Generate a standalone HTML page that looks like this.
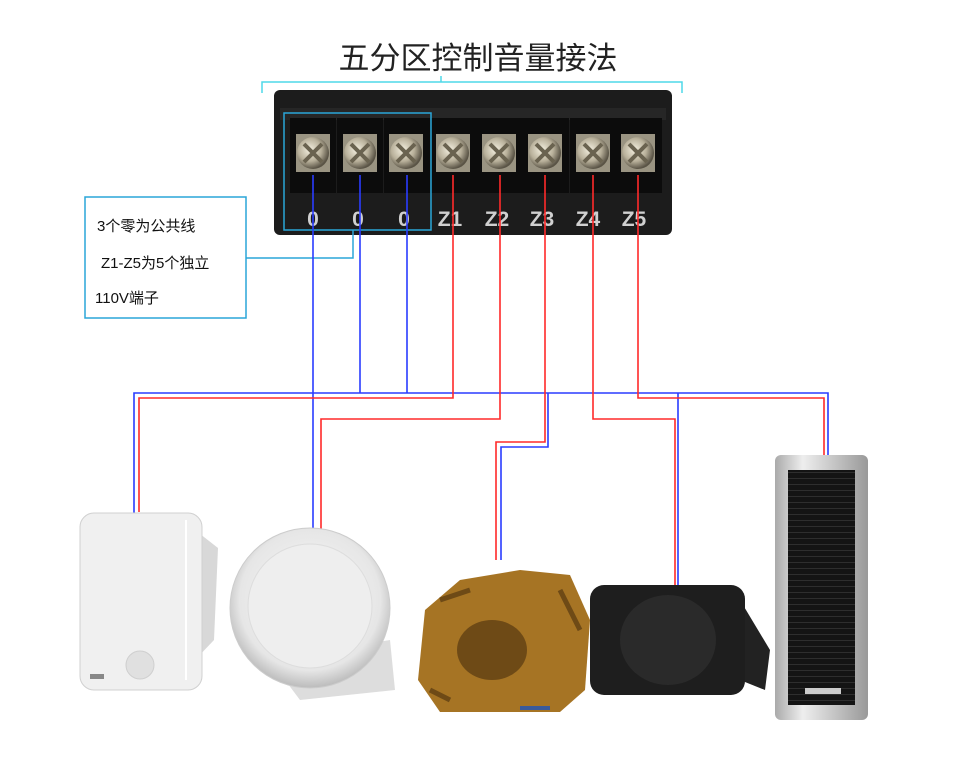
<!DOCTYPE html>
<html><head><meta charset="utf-8"><style>
body{margin:0;background:#fff;width:955px;height:770px;overflow:hidden;font-family:"Liberation Sans","Noto Sans CJK SC",sans-serif}
</style></head><body>
<svg width="955" height="770" xmlns="http://www.w3.org/2000/svg">
<defs>
<radialGradient id="sc" cx="40%" cy="40%" r="60%"><stop offset="0" stop-color="#f4f0e0"/><stop offset="0.6" stop-color="#b8b09a"/><stop offset="1" stop-color="#5a5446"/></radialGradient>
<radialGradient id="ceil" cx="50%" cy="45%" r="55%"><stop offset="0" stop-color="#fafafa"/><stop offset="0.8" stop-color="#e6e6e6"/><stop offset="1" stop-color="#bbb"/></radialGradient>
<linearGradient id="col" x1="0" x2="1"><stop offset="0" stop-color="#aaa"/><stop offset="0.3" stop-color="#eee"/><stop offset="1" stop-color="#999"/></linearGradient>
<pattern id="grille" width="10" height="6" patternUnits="userSpaceOnUse"><rect width="10" height="6" fill="#141414"/><rect y="4" width="10" height="1" fill="#2e2e2e"/></pattern>
</defs>
<text x="478" y="69" font-size="31" text-anchor="middle" fill="#222" font-family="Liberation Sans,Noto Sans CJK SC,sans-serif">五分区控制音量接法</text>
<g stroke="#4fd8e8" stroke-width="1.5" fill="none">
<path d="M262 93V82H682V93M441 82V76"/>
</g>
<rect x="274" y="90" width="398" height="145" rx="6" fill="#1c1c1c"/>
<rect x="280" y="108" width="386" height="12" fill="#262626"/>
<g fill="#0c0c0c">
<rect x="290" y="118" width="46" height="75"/><rect x="337" y="118" width="46" height="75"/><rect x="384" y="118" width="46" height="75"/><rect x="431" y="118" width="46" height="75"/><rect x="477" y="118" width="46" height="75"/><rect x="523" y="118" width="46" height="75"/><rect x="570" y="118" width="46" height="75"/><rect x="616" y="118" width="46" height="75"/>
</g>
<g>
<g transform="translate(313,153)"><rect x="-17" y="-19" width="34" height="38" fill="#9a9482"/><circle r="16" fill="url(#sc)"/><path d="M-9 -9L9 9M9 -9L-9 9" stroke="#6a6350" stroke-width="4"/></g>
<g transform="translate(360,153)"><rect x="-17" y="-19" width="34" height="38" fill="#9a9482"/><circle r="16" fill="url(#sc)"/><path d="M-9 -9L9 9M9 -9L-9 9" stroke="#6a6350" stroke-width="4"/></g>
<g transform="translate(406,153)"><rect x="-17" y="-19" width="34" height="38" fill="#9a9482"/><circle r="16" fill="url(#sc)"/><path d="M-9 -9L9 9M9 -9L-9 9" stroke="#6a6350" stroke-width="4"/></g>
<g transform="translate(453,153)"><rect x="-17" y="-19" width="34" height="38" fill="#9a9482"/><circle r="16" fill="url(#sc)"/><path d="M-9 -9L9 9M9 -9L-9 9" stroke="#6a6350" stroke-width="4"/></g>
<g transform="translate(499,153)"><rect x="-17" y="-19" width="34" height="38" fill="#9a9482"/><circle r="16" fill="url(#sc)"/><path d="M-9 -9L9 9M9 -9L-9 9" stroke="#6a6350" stroke-width="4"/></g>
<g transform="translate(545,153)"><rect x="-17" y="-19" width="34" height="38" fill="#9a9482"/><circle r="16" fill="url(#sc)"/><path d="M-9 -9L9 9M9 -9L-9 9" stroke="#6a6350" stroke-width="4"/></g>
<g transform="translate(593,153)"><rect x="-17" y="-19" width="34" height="38" fill="#9a9482"/><circle r="16" fill="url(#sc)"/><path d="M-9 -9L9 9M9 -9L-9 9" stroke="#6a6350" stroke-width="4"/></g>
<g transform="translate(638,153)"><rect x="-17" y="-19" width="34" height="38" fill="#9a9482"/><circle r="16" fill="url(#sc)"/><path d="M-9 -9L9 9M9 -9L-9 9" stroke="#6a6350" stroke-width="4"/></g>
</g>
<g fill="#d0d0d0" font-size="21" font-weight="bold" text-anchor="middle">
<text x="313" y="226">0</text><text x="358" y="226">0</text><text x="404" y="226">0</text><text x="450" y="226">Z1</text><text x="497" y="226">Z2</text><text x="542" y="226">Z3</text><text x="588" y="226">Z4</text><text x="634" y="226">Z5</text>
</g>
<g stroke="#2aa6d8" stroke-width="1.5" fill="none">
<rect x="284" y="113" width="147" height="117"/>
<rect x="85" y="197" width="161" height="121"/>
<path d="M353 230V258H246"/>
</g>
<g font-size="15" fill="#111">
<text x="97" y="231">3个零为公共线</text>
<text x="101" y="268">Z1-Z5为5个独立</text>
<text x="95" y="303">110V端子</text>
</g>
<g fill="none" stroke-width="1.6">
<g stroke="#2a3cff">
<path d="M134 520V393H828V460"/>
<path d="M313 175V530"/><path d="M360 175V393"/><path d="M407 175V393"/>
<path d="M548 393V447H501V560"/>
<path d="M678 393V590"/>
</g>
<g stroke="#ff2a2a">
<path d="M453 175V398H139V512"/>
<path d="M500 175V419H321V537"/>
<path d="M545 175V442H496V560"/>
<path d="M593 175V419H675V590"/>
<path d="M638 175V398H824V460"/>
</g>
</g>
<!-- wall speaker -->
<path d="M195 530L218 548L214 640L195 660Z" fill="#d8d8d8"/>
<rect x="80" y="513" width="122" height="177" rx="14" fill="#f0f0f0" stroke="#d0d0d0"/>
<path d="M186 520V680" stroke="#fff" stroke-width="2"/>
<circle cx="140" cy="665" r="14" fill="#e0e0e0" stroke="#cfcfcf"/>
<rect x="90" y="674" width="14" height="5" fill="#888"/>
<!-- ceiling speaker -->
<path d="M270 660L390 640L395 690L300 700Z" fill="#ddd"/>
<circle cx="310" cy="608" r="80" fill="url(#ceil)" stroke="#ccc"/>
<circle cx="310" cy="606" r="62" fill="#eee" stroke="#ddd"/>
<!-- rock speaker -->
<path d="M425 610L460 580L520 570L570 575L590 620L585 690L560 712L440 712L418 680Z" fill="#a67424"/>
<path d="M440 600L470 590M560 590L580 630M430 690L450 700" stroke="#6e4a16" stroke-width="5" fill="none"/>
<ellipse cx="492" cy="650" rx="35" ry="30" fill="#6e4a16"/>
<rect x="520" y="706" width="30" height="4" fill="#3a5a9a"/>
<!-- black speaker -->
<path d="M740 600L770 650L765 690L740 680Z" fill="#222"/>
<rect x="590" y="585" width="155" height="110" rx="14" fill="#1e1e1e"/>
<ellipse cx="668" cy="640" rx="48" ry="45" fill="#2a2a2a"/>
<!-- column speaker -->
<rect x="775" y="455" width="93" height="265" rx="6" fill="url(#col)"/>
<rect x="788" y="470" width="67" height="235" fill="url(#grille)"/>
<rect x="805" y="688" width="36" height="6" fill="#ccc"/>
</svg>
</body></html>
